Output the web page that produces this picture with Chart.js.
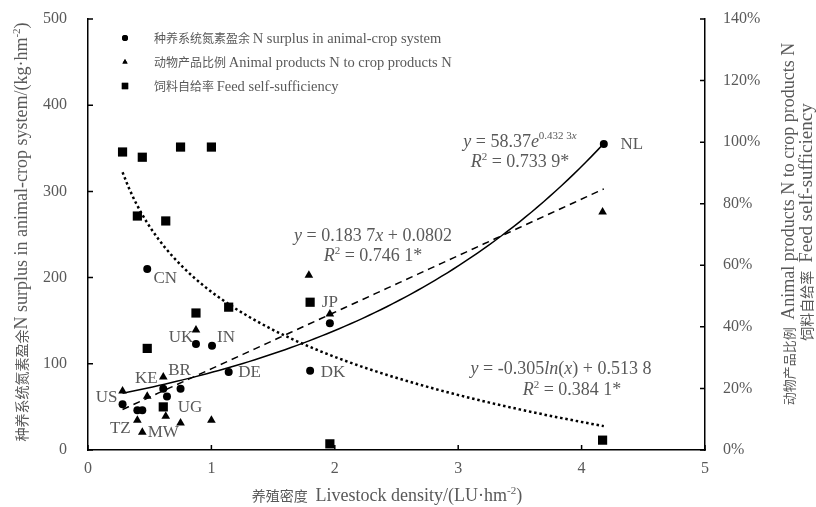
<!DOCTYPE html>
<html>
<head>
<meta charset="utf-8">
<script src="https://cdn.jsdelivr.net/npm/chart.js@4.4.1/dist/chart.umd.min.js"></script>
<style>
  html, body { margin: 0; padding: 0; background: #fff; }
  #wrap { width: 816px; height: 507px; }
</style>
</head>
<body>
<div id="wrap"><canvas id="chart" width="816" height="507"></canvas></div>
<script>
// N surplus (left axis, kg/hm2) by country, against livestock density (LU/hm2)
const countries = ['NL', 'CN', 'UK', 'IN', 'DE', 'DK', 'JP', 'KE', 'BR', 'UG', 'US', 'TZ', 'MW'];
const surplusDensity = [4.18, 0.48, 0.875, 1.005, 1.14, 1.80, 1.96, 0.61, 0.75, 0.64, 0.28, 0.40, 0.44];
const nSurplus = [355, 210, 123, 121, 90.5, 92, 147, 71, 71, 62, 53, 46, 46];

// animal products N / crop products N (right axis, fraction)
const ratioDensity = [4.17, 1.96, 1.79, 0.875, 0.61, 0.28, 0.48, 0.63, 0.75, 1.0, 0.40, 0.44];
const animalCropRatio = [0.773, 0.442, 0.568, 0.39, 0.237, 0.192, 0.175, 0.11, 0.088, 0.097, 0.097, 0.058];

// feed self-sufficiency (right axis, fraction)
const feedDensity = [0.28, 0.44, 0.75, 1.0, 0.40, 0.63, 0.875, 1.14, 0.48, 0.61, 1.80, 1.96, 4.17];
const feedSelf = [0.968, 0.951, 0.984, 0.984, 0.76, 0.744, 0.445, 0.464, 0.33, 0.14, 0.48, 0.02, 0.032];

// fitted curves as printed on the chart
const expFit = { a: 58.37, b: 0.4323 };      // y = a e^(bx)
const linFit = { k: 0.1837, c: 0.0802 };     // y = kx + c
const logFit = { k: -0.305, c: 0.5138 };     // y = k ln(x) + c

const SERIF = '"Liberation Serif", "Times New Roman", serif';
const CJK = '"Noto Sans CJK SC", sans-serif';
const TEXT = '#595959';

function pairs(xs, ys) {
    return xs.map((x, i) => ({ x: x, y: ys[i] }));
}

// sample a fitted curve over the range of the data
function curve(fn) {
    const all = surplusDensity.concat(ratioDensity, feedDensity);
    const lo = Math.min(...all), hi = Math.max(...all);
    const pts = [];
    const n = 80;
    for (let i = 0; i <= n; i++) {
        const x = lo + (hi - lo) * i / n;
        pts.push({ x: x, y: fn(x) });
    }
    return pts;
}

// labels hang off the N-surplus points: [dx, dy] in px
const labelOffsets = {
    NL: [28, 1], CN: [18, 10], UK: [-15, -6], IN: [14, -8], DE: [21, 1],
    DK: [23, 2], JP: [0, -21], KE: [-17, -10], BR: [-1, -18], UG: [23, 11],
    US: [-16, -7], TZ: [-17, 18], MW: [21, 22]
};

function drawRuns(ctx, runs, x, y, align) {
    let total = 0;
    runs.forEach(r => {
        ctx.font = r.font;
        r.w = ctx.measureText(r.text).width;
        total += r.w;
    });
    let cx = align === 'center' ? x - total / 2 : (align === 'right' ? x - total : x);
    ctx.textAlign = 'left';
    ctx.textBaseline = 'alphabetic';
    runs.forEach(r => {
        ctx.font = r.font;
        ctx.fillText(r.text, cx, y + (r.dy || 0));
        cx += r.w;
    });
}

const serif = (s, style) => (style ? style + ' ' : '') + s + 'px ' + SERIF;
const cjk = s => s + 'px ' + CJK;

const decor = {
    id: 'decor',
    afterDraw(chart) {
        const ctx = chart.ctx;
        const a = chart.chartArea;
        const sx = chart.scales.x, sy = chart.scales.y, sy2 = chart.scales.y2;
        ctx.save();

        // inward tick marks
        ctx.strokeStyle = '#000';
        ctx.lineWidth = 1.5;
        ctx.beginPath();
        sx.ticks.forEach(t => {
            const px = sx.getPixelForValue(t.value);
            ctx.moveTo(px, a.bottom); ctx.lineTo(px, a.bottom - 5);
        });
        sy.ticks.forEach(t => {
            const py = sy.getPixelForValue(t.value);
            ctx.moveTo(a.left, py); ctx.lineTo(a.left + 5, py);
        });
        sy2.ticks.forEach(t => {
            const py = sy2.getPixelForValue(t.value);
            ctx.moveTo(a.right, py); ctx.lineTo(a.right - 5, py);
        });
        ctx.stroke();

        ctx.fillStyle = TEXT;

        // x axis title
        drawRuns(ctx, [
            { text: '养殖密度 ', font: cjk(14) },
            { text: ' Livestock density/(LU·hm', font: serif(18) },
            { text: '-2', font: serif(11), dy: -7 },
            { text: ')', font: serif(18) }
        ], 387, 501, 'center');

        // left axis title
        ctx.save();
        ctx.translate(27, 232);
        ctx.rotate(-Math.PI / 2);
        drawRuns(ctx, [
            { text: '种养系统氮素盈余', font: cjk(14) },
            { text: 'N surplus in animal-crop system/(kg·hm', font: serif(18) },
            { text: '-2', font: serif(11), dy: -7 },
            { text: ')', font: serif(18) }
        ], 0, 0, 'center');
        ctx.restore();

        // right axis titles
        ctx.save();
        ctx.translate(794, 224);
        ctx.rotate(-Math.PI / 2);
        drawRuns(ctx, [
            { text: '动物产品比例 ', font: cjk(13) },
            { text: ' Animal products N to crop products N', font: serif(18) }
        ], 0, 0, 'center');
        ctx.restore();
        ctx.save();
        ctx.translate(812, 222);
        ctx.rotate(-Math.PI / 2);
        drawRuns(ctx, [
            { text: '饲料自给率 ', font: cjk(14) },
            { text: ' Feed self-sufficiency', font: serif(19) }
        ], 0, 0, 'center');
        ctx.restore();

        // legend
        const legendRows = [
            ['circle', '种养系统氮素盈余 ', 'N surplus in animal-crop system'],
            ['triangle', '动物产品比例 ', 'Animal products N to crop products N'],
            ['rect', '饲料自给率 ', 'Feed self-sufficiency']
        ];
        legendRows.forEach((row, i) => {
            const y = 38 + i * 24;
            ctx.fillStyle = '#000';
            const r = row[0] === 'circle' ? 3 : (row[0] === 'triangle' ? 3 : 4.5);
            Chart.helpers.drawPoint(ctx, { pointStyle: row[0], radius: r, borderWidth: 0 }, 125, y);
            ctx.fill();
            ctx.fillStyle = TEXT;
            drawRuns(ctx, [
                { text: row[1], font: cjk(12) },
                { text: row[2], font: serif(14.5) }
            ], 154, y + 5, 'left');
        });

        // country labels
        ctx.font = serif(17);
        ctx.textAlign = 'center';
        ctx.textBaseline = 'middle';
        countries.forEach((c, i) => {
            const off = labelOffsets[c];
            const px = sx.getPixelForValue(surplusDensity[i]) + off[0];
            const py = sy.getPixelForValue(nSurplus[i]) + off[1];
            ctx.fillText(c, px, py);
        });

        // fitted equations
        drawRuns(ctx, [
            { text: 'y', font: serif(18, 'italic') },
            { text: ' = 58.37', font: serif(18) },
            { text: 'e', font: serif(18, 'italic') },
            { text: '0.432 3', font: serif(11), dy: -8 },
            { text: 'x', font: serif(11, 'italic'), dy: -8 }
        ], 520, 147, 'center');
        drawRuns(ctx, [
            { text: 'R', font: serif(18, 'italic') },
            { text: '2', font: serif(11), dy: -7 },
            { text: ' = 0.733 9*', font: serif(18) }
        ], 520, 167, 'center');

        drawRuns(ctx, [
            { text: 'y', font: serif(18, 'italic') },
            { text: ' = 0.183 7', font: serif(18) },
            { text: 'x', font: serif(18, 'italic') },
            { text: ' + 0.0802', font: serif(18) }
        ], 373, 241, 'center');
        drawRuns(ctx, [
            { text: 'R', font: serif(18, 'italic') },
            { text: '2', font: serif(11), dy: -7 },
            { text: ' = 0.746 1*', font: serif(18) }
        ], 373, 261, 'center');

        drawRuns(ctx, [
            { text: 'y', font: serif(18, 'italic') },
            { text: ' = -0.305', font: serif(18) },
            { text: 'ln', font: serif(18, 'italic') },
            { text: '(', font: serif(18) },
            { text: 'x', font: serif(18, 'italic') },
            { text: ') + 0.513 8', font: serif(18) }
        ], 561, 374, 'center');
        drawRuns(ctx, [
            { text: 'R', font: serif(18, 'italic') },
            { text: '2', font: serif(11), dy: -7 },
            { text: ' = 0.384 1*', font: serif(18) }
        ], 572, 395, 'center');

        ctx.restore();
    }
};

const ctx = document.getElementById('chart').getContext('2d');
const chart = new Chart(ctx, {
    type: 'scatter',
    data: {
        datasets: [
            {
                label: 'N surplus',
                data: pairs(surplusDensity, nSurplus),
                yAxisID: 'y',
                pointStyle: 'circle',
                pointRadius: 4,
                backgroundColor: '#000',
                borderColor: '#000',
                borderWidth: 0
            },
            {
                label: 'Animal products N to crop products N',
                data: pairs(ratioDensity, animalCropRatio),
                yAxisID: 'y2',
                pointStyle: 'triangle',
                pointRadius: 5,
                backgroundColor: '#000',
                borderColor: '#000',
                borderWidth: 0
            },
            {
                label: 'Feed self-sufficiency',
                data: pairs(feedDensity, feedSelf),
                yAxisID: 'y2',
                pointStyle: 'rect',
                pointRadius: 6.5,
                backgroundColor: '#000',
                borderColor: '#000',
                borderWidth: 0
            },
            {
                type: 'line',
                label: 'exp fit',
                data: curve(x => expFit.a * Math.exp(expFit.b * x)),
                yAxisID: 'y',
                borderColor: '#000',
                borderWidth: 1.5,
                pointRadius: 0,
                fill: false
            },
            {
                type: 'line',
                label: 'linear fit',
                data: curve(x => linFit.k * x + linFit.c),
                yAxisID: 'y2',
                borderColor: '#000',
                borderWidth: 1.5,
                borderDash: [7, 5],
                pointRadius: 0,
                fill: false
            },
            {
                type: 'line',
                label: 'log fit',
                data: curve(x => logFit.k * Math.log(x) + logFit.c),
                yAxisID: 'y2',
                borderColor: '#000',
                borderWidth: 2.5,
                borderDash: [2.5, 2.8],
                pointRadius: 0,
                fill: false
            }
        ]
    },
    options: {
        responsive: false,
        animation: false,
        layout: { padding: { top: 0, left: 0, right: 0, bottom: 0 } },
        plugins: {
            legend: { display: false },
            tooltip: { enabled: false }
        },
        scales: {
            x: {
                type: 'linear',
                min: 0,
                max: 5,
                grid: { display: false },
                border: { display: true, color: '#000', width: 1.5 },
                ticks: { stepSize: 1, padding: 1, color: TEXT, font: { family: SERIF, size: 16 } },
                afterFit: s => { s.height = 57; }
            },
            y: {
                position: 'left',
                min: 0,
                max: 500,
                grid: { display: false },
                border: { display: true, color: '#000', width: 1.5 },
                ticks: { stepSize: 100, padding: 13, color: TEXT, font: { family: SERIF, size: 16, lineHeight: 1 } },
                afterFit: s => { s.width = 88; s.paddingTop = 19; }
            },
            y2: {
                position: 'right',
                min: 0,
                max: 1.4,
                grid: { display: false },
                border: { display: true, color: '#000', width: 1.5 },
                ticks: {
                    stepSize: 0.2,
                    padding: 10,
                    color: TEXT,
                    font: { family: SERIF, size: 16, lineHeight: 1 },
                    callback: v => Math.round(v * 100) + '%'
                },
                afterFit: s => { s.width = 111; s.paddingTop = 19; }
            }
        }
    },
    plugins: [decor]
});
</script>
</body>
</html>
